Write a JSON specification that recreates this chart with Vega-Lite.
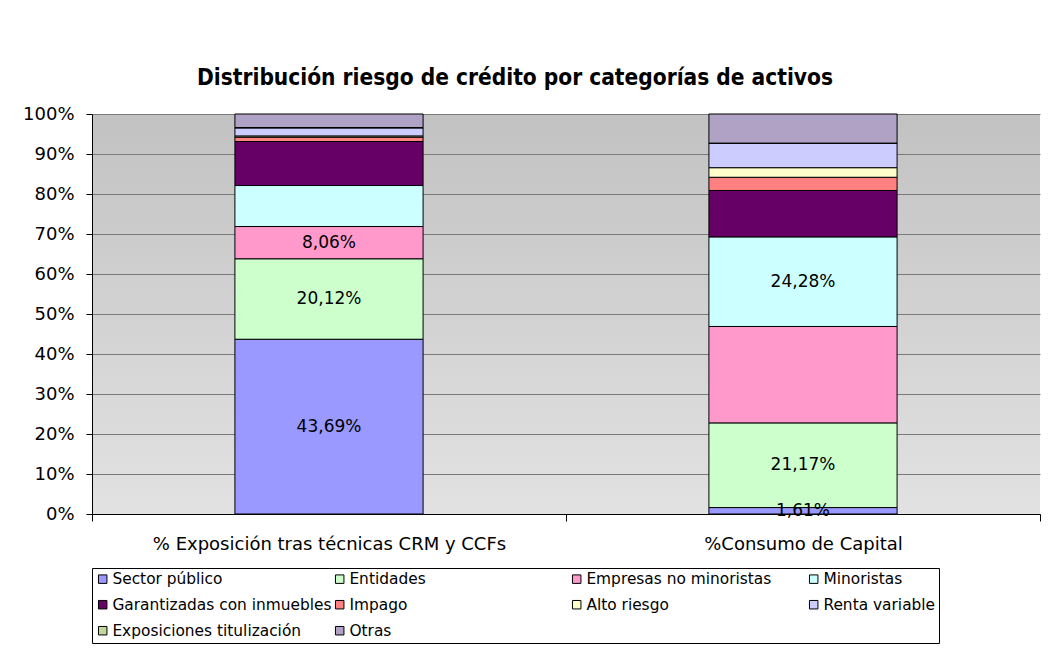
{
  "$schema": "https://vega.github.io/schema/vega-lite/v6.json",
  "autosize": "none",
  "width": 948,
  "height": 400,
  "padding": {"left": 92, "top": 114, "right": 14, "bottom": 140},
  "background": "white",
  "title": {
    "text": "Distribución riesgo de crédito por categorías de activos",
    "font": "DejaVu Sans Condensed",
    "fontSize": 22.5,
    "fontWeight": "bold",
    "color": "black",
    "anchor": "middle",
    "frame": "group",
    "dx": -51,
    "offset": 16
  },
  "config": {
    "view": {
      "stroke": null,
      "fill": {
        "gradient": "linear",
        "x1": 0, "y1": 0, "x2": 0, "y2": 1,
        "stops": [
          {"offset": 0, "color": "#C2C2C2"},
          {"offset": 1, "color": "#E2E2E2"}
        ]
      }
    },
    "axisX": {
      "title": null, "labelAngle": 0, "labelFont": "DejaVu Sans", "labelFontSize": 18,
      "labelColor": "black", "labelPadding": 14, "labelLimit": 600, "tickBand": "extent", "ticks": true,
      "tickSize": 7, "tickColor": "black", "domainColor": "black", "grid": false
    },
    "axisY": {
      "title": null, "labelFont": "DejaVu Sans", "labelFontSize": 18,
      "labelColor": "black", "labelOverlap": false, "tickColor": "black", "tickSize": 6, "domainColor": "black",
      "grid": true, "gridColor": "#7A7A7A", "gridOpacity": 1, "labelPadding": 12
    }
  },
  "data": {
    "values": [
      {"serie": "% Exposición tras técnicas CRM y CCFs", "categoria": "Sector público", "o": 1, "valor": 43.69, "etiqueta": "43,69%"},
      {"serie": "% Exposición tras técnicas CRM y CCFs", "categoria": "Entidades", "o": 2, "valor": 20.12, "etiqueta": "20,12%"},
      {"serie": "% Exposición tras técnicas CRM y CCFs", "categoria": "Empresas no minoristas", "o": 3, "valor": 8.06, "etiqueta": "8,06%"},
      {"serie": "% Exposición tras técnicas CRM y CCFs", "categoria": "Minoristas", "o": 4, "valor": 10.25, "etiqueta": ""},
      {"serie": "% Exposición tras técnicas CRM y CCFs", "categoria": "Garantizadas con inmuebles", "o": 5, "valor": 11.0, "etiqueta": ""},
      {"serie": "% Exposición tras técnicas CRM y CCFs", "categoria": "Impago", "o": 6, "valor": 1.1, "etiqueta": ""},
      {"serie": "% Exposición tras técnicas CRM y CCFs", "categoria": "Alto riesgo", "o": 7, "valor": 0.3, "etiqueta": ""},
      {"serie": "% Exposición tras técnicas CRM y CCFs", "categoria": "Renta variable", "o": 8, "valor": 2.0, "etiqueta": ""},
      {"serie": "% Exposición tras técnicas CRM y CCFs", "categoria": "Exposiciones titulización", "o": 9, "valor": 0.1, "etiqueta": ""},
      {"serie": "% Exposición tras técnicas CRM y CCFs", "categoria": "Otras", "o": 10, "valor": 3.38, "etiqueta": ""},
      {"serie": "%Consumo de Capital", "categoria": "Sector público", "o": 1, "valor": 1.61, "etiqueta": "1,61%"},
      {"serie": "%Consumo de Capital", "categoria": "Entidades", "o": 2, "valor": 21.17, "etiqueta": "21,17%"},
      {"serie": "%Consumo de Capital", "categoria": "Empresas no minoristas", "o": 3, "valor": 24.1, "etiqueta": ""},
      {"serie": "%Consumo de Capital", "categoria": "Minoristas", "o": 4, "valor": 22.4, "etiqueta": "24,28%"},
      {"serie": "%Consumo de Capital", "categoria": "Garantizadas con inmuebles", "o": 5, "valor": 11.6, "etiqueta": ""},
      {"serie": "%Consumo de Capital", "categoria": "Impago", "o": 6, "valor": 3.3, "etiqueta": ""},
      {"serie": "%Consumo de Capital", "categoria": "Alto riesgo", "o": 7, "valor": 2.4, "etiqueta": ""},
      {"serie": "%Consumo de Capital", "categoria": "Renta variable", "o": 8, "valor": 6.15, "etiqueta": ""},
      {"serie": "%Consumo de Capital", "categoria": "Exposiciones titulización", "o": 9, "valor": 0, "etiqueta": ""},
      {"serie": "%Consumo de Capital", "categoria": "Otras", "o": 10, "valor": 7.27, "etiqueta": ""}
    ]
  },
  "layer": [
    {
      "mark": {"type": "bar", "width": {"band": 0.397}, "stroke": "black", "strokeWidth": 1, "opacity": 1},
      "encoding": {
        "x": {
          "field": "serie", "type": "nominal", "sort": null,
          "scale": {"paddingInner": 0, "paddingOuter": 0}
        },
        "y": {
          "field": "valor", "type": "quantitative", "stack": "zero",
          "scale": {"domain": [0, 100], "nice": false},
          "axis": {"values": [0, 10, 20, 30, 40, 50, 60, 70, 80, 90, 100], "labelExpr": "datum.value + '%'"}
        },
        "color": {
          "field": "categoria", "type": "nominal",
          "scale": {
            "domain": ["Sector público", "Entidades", "Empresas no minoristas", "Minoristas", "Garantizadas con inmuebles", "Impago", "Alto riesgo", "Renta variable", "Exposiciones titulización", "Otras"],
            "range": ["#9999FF", "#CCFFCC", "#FF99CC", "#CCFFFF", "#660066", "#FF8080", "#FFFFCC", "#CCCCFF", "#C4D79B", "#B0A2C4"]
          },
          "legend": {
            "orient": "none", "legendX": 0, "legendY": 454, "columns": 4, "direction": "horizontal",
            "title": null, "symbolType": "square", "symbolSize": 72, "symbolStrokeColor": "black",
            "symbolStrokeWidth": 1, "symbolOpacity": 1, "labelFont": "DejaVu Sans", "labelFontSize": 15.4,
            "labelColor": "black", "strokeColor": "black", "fillColor": "white", "padding": 3,
            "rowPadding": 9, "columnPadding": -2, "gridAlign": "all", "labelLimit": 400, "labelOffset": 2
          }
        },
        "order": {"field": "o", "type": "quantitative"}
      }
    },
    {
      "transform": [
        {"stack": "valor", "groupby": ["serie"], "sort": [{"field": "o", "order": "ascending"}], "as": ["y0", "y1"]},
        {"calculate": "(datum.y0 + datum.y1) / 2", "as": "ymid"},
        {"filter": "datum.etiqueta != ''"}
      ],
      "mark": {"type": "text", "font": "DejaVu Sans", "fontSize": 17, "color": "black", "baseline": "middle", "align": "center"},
      "encoding": {
        "x": {"field": "serie", "type": "nominal", "sort": null},
        "y": {
          "field": "ymid", "type": "quantitative",
          "axis": {"values": [0, 10, 20, 30, 40, 50, 60, 70, 80, 90, 100], "labelExpr": "datum.value + '%'"}
        },
        "text": {"field": "etiqueta"}
      }
    }
  ]
}
